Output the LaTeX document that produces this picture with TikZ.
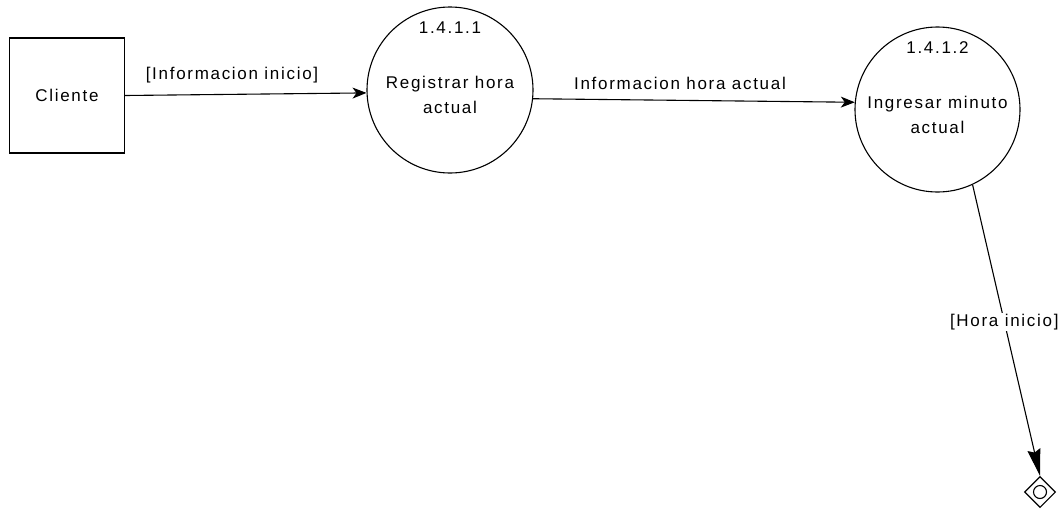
\documentclass[tikz,border=0pt]{standalone}
\usepackage{fontspec}
\newfontfamily\dfdfont[LetterSpace=10]{Liberation Sans}
\usetikzlibrary{arrows.meta,shapes.geometric}
\begin{document}
\begin{tikzpicture}[x=1pt,y=-1pt,
  every node/.style={font=\dfdfont\fontsize{17}{25.5}\selectfont, inner sep=1pt},
  entity/.style={draw, line width=1.1pt, minimum width=115pt, minimum height=115pt},
  process/.style={draw, circle, line width=1.1pt, inner sep=0pt},
  flow/.style={line width=1.1pt, -{Stealth[length=14pt,width=11pt,inset=4pt]}},
  endflow/.style={line width=1.1pt, -{Stealth[length=27pt,width=13pt,inset=3pt]}},
  flowlabel/.style={fill=white, inner sep=1pt},
  final/.style={draw, diamond, line width=1.1pt, minimum width=31pt, minimum height=31pt, inner sep=0pt}
]
\useasboundingbox (0,0) rectangle (1058,509);

% external entity
\node[entity] (cli) at (67,95.5) {Cliente};

% processes
\node[process, minimum size=166pt] (c1) at (450,90) {};
\node (c1id) at (450,28) {1.4.1.1};
\node[align=center] (c1txt) at (450,95) {Registrar hora\\actual};

\node[process, minimum size=165pt] (c2) at (937.5,109.5) {};
\node (c2id) at (937.5,48) {1.4.1.2};
\node[align=center] (c2txt) at (937.5,115) {Ingresar minuto\\actual};

% final state
\node[final] (fin) at (1040,492) {};
\node[draw, circle, line width=1.1pt, minimum size=13pt, inner sep=0pt] (fincore) at (fin.center) {};

% data flows
\draw[flow] (cli.east) -- (c1.182);
\node (l1) at (232,75) {[Informacion inicio]};

\draw[flow] (c1.-6) -- (c2.175);
\node (l2) at (680,83) {Informacion hora actual};

\draw[endflow] (c2.-65) -- node[flowlabel, pos=0.47] (l3) {[Hora inicio]} (fin.north);
\end{tikzpicture}
\end{document}
